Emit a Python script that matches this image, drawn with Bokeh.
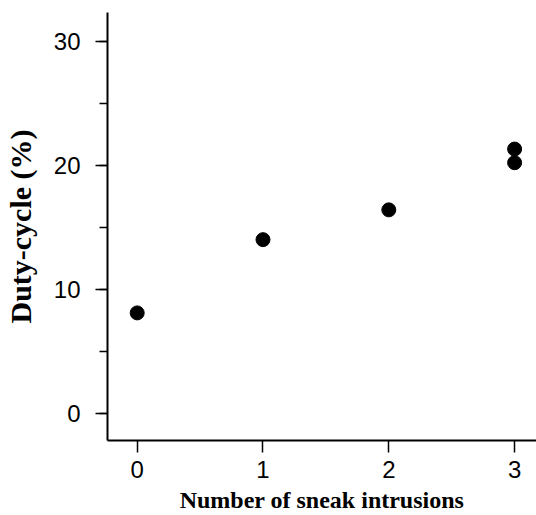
from bokeh.plotting import figure
from bokeh.models import Range1d, SingleIntervalTicker, FixedTicker
from bokeh.embed import file_html
from bokeh.resources import INLINE

# Data
sneak_intrusions = [0, 1, 2, 3, 3]
duty_cycle = [8.1, 14.0, 16.4, 21.3, 20.2]
x_ticks = [0, 1, 2, 3]
x_title = "Number of sneak intrusions"
y_title = "Duty-cycle (%)"

p = figure(width=536, height=515, output_backend="svg", toolbar_location=None,
           x_range=Range1d(-0.236, 3.174), y_range=Range1d(-2.18, 32.3),
           min_border_left=107, min_border_right=0, min_border_top=12,
           min_border_bottom=75)
p.outline_line_color = None
p.xgrid.visible = False
p.ygrid.visible = False

p.scatter(sneak_intrusions, duty_cycle, size=14, color="black")

for ax in (p.xaxis[0], p.yaxis[0]):
    ax.axis_line_width = 2
    ax.axis_line_color = "black"
    ax.major_tick_line_width = 1.5
    ax.major_tick_line_color = "black"
    ax.minor_tick_line_width = 1.5
    ax.minor_tick_line_color = "black"
    ax.major_tick_in = 0
    ax.major_tick_out = 12
    ax.minor_tick_in = 0
    ax.minor_tick_out = 8
    ax.major_label_text_font = "Liberation Sans"
    ax.major_label_text_font_size = "24px"
    ax.major_label_text_color = "black"
    ax.axis_label_text_font = "Liberation Serif"
    ax.axis_label_text_font_style = "bold"
    ax.axis_label_text_color = "black"

p.xaxis[0].ticker = FixedTicker(ticks=x_ticks)
p.xaxis[0].minor_tick_out = 0
p.xaxis[0].major_label_standoff = 8
p.xaxis[0].axis_label = x_title
p.xaxis[0].axis_label_text_font_size = "24px"
p.xaxis[0].axis_label_standoff = 6

p.yaxis[0].ticker = SingleIntervalTicker(interval=10, num_minor_ticks=2)
p.yaxis[0].major_label_standoff = 15
p.yaxis[0].axis_label = y_title
p.yaxis[0].axis_label_text_font_size = "30px"
p.yaxis[0].axis_label_standoff = 14

open("out.html", "w").write(file_html(p, INLINE))
